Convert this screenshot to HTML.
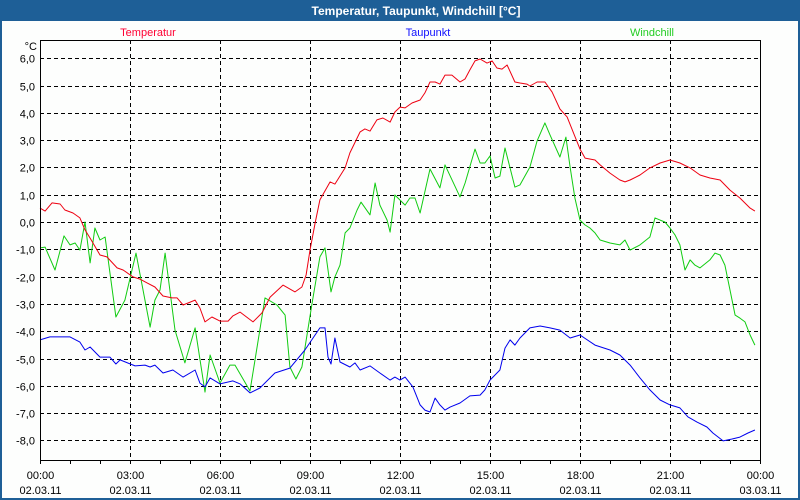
<!DOCTYPE html>
<html><head><meta charset="utf-8"><style>
html,body{margin:0;padding:0;background:#fff;}
#win{position:relative;width:800px;height:500px;overflow:hidden;font-family:"Liberation Sans",sans-serif;}
</style></head><body>
<div id="win">
<svg id="chart" width="800" height="500" xmlns="http://www.w3.org/2000/svg">
  <rect x="0" y="0" width="800" height="500" fill="#fdfefd"/>
  <rect x="0" y="0" width="800" height="21" fill="#1e5f97"/>
  <rect x="0" y="0" width="2" height="500" fill="#1e5f97"/>
  <rect x="798" y="0" width="2" height="500" fill="#1e5f97"/>
  <rect x="0" y="498" width="800" height="2" fill="#1e5f97"/>
  <text x="416" y="15" text-anchor="middle" font-size="12" font-weight="bold" fill="#fff">Temperatur, Taupunkt, Windchill [°C]</text>
  <text x="148" y="36" text-anchor="middle" font-size="11" fill="#ff0033">Temperatur</text>
  <text x="428" y="36" text-anchor="middle" font-size="11" fill="#1010ff">Taupunkt</text>
  <text x="652" y="36" text-anchor="middle" font-size="11" fill="#22cc22">Windchill</text>
  <text x="37" y="50" text-anchor="end" font-size="11" fill="#000">°C</text>
  <g id="grid"></g>
  <g id="series"></g>
  <g id="axes"></g>
</svg>
</div>
<script>
const yTicks=[6,5,4,3,2,1,0,-1,-2,-3,-4,-5,-6,-7,-8];
const xTickHours=[0,3,6,9,12,15,18,21,24];
const xTimeLabels=["00:00","03:00","06:00","09:00","12:00","15:00","18:00","21:00","00:00"];
const xDateLabels=["02.03.11","02.03.11","02.03.11","02.03.11","02.03.11","02.03.11","02.03.11","02.03.11","03.03.11"];
const tempHours=[0,0.17,0.4,0.67,0.83,1.1,1.33,1.5,1.67,2,2.23,2.57,2.77,3.1,3.33,3.57,3.83,4.1,4.4,4.57,4.77,5.17,5.33,5.5,5.73,6,6.27,6.43,6.67,7.1,7.4,7.67,8.1,8.5,8.73,8.87,9,9.17,9.33,9.67,9.83,10.17,10.33,10.67,10.83,11,11.23,11.43,11.67,11.83,12,12.17,12.4,12.67,12.83,13,13.17,13.33,13.5,13.73,14,14.17,14.33,14.5,14.67,14.9,15.07,15.23,15.4,15.57,15.83,16,16.23,16.33,16.57,16.83,17.07,17.33,17.57,17.77,18,18.17,18.5,18.67,19,19.33,19.5,19.67,20,20.33,20.67,21,21.33,21.67,22,22.33,22.67,23,23.33,23.67,23.83];
const tempValues=[0.51,0.4,0.7,0.66,0.44,0.33,0.15,-0.29,-0.59,-1.21,-1.28,-1.68,-1.76,-2.01,-2.09,-2.23,-2.38,-2.71,-2.78,-2.78,-3.04,-2.86,-3.15,-3.66,-3.48,-3.63,-3.63,-3.44,-3.3,-3.66,-3.33,-2.75,-2.31,-2.56,-2.38,-1.94,-1.03,-0.04,0.81,1.47,1.39,1.98,2.53,3.3,3.41,3.33,3.74,3.81,3.66,4.03,4.21,4.18,4.36,4.47,4.73,5.13,5.13,5.05,5.38,5.38,5.13,5.24,5.57,5.9,5.97,5.82,5.9,5.64,5.6,5.75,5.13,5.09,5.05,4.98,5.13,5.13,4.76,4.14,3.85,3.3,2.67,2.34,2.27,2.09,1.79,1.54,1.47,1.54,1.72,1.98,2.16,2.27,2.16,1.98,1.72,1.61,1.54,1.17,0.88,0.51,0.4];
const chillHours=[0,0.17,0.5,0.8,1,1.17,1.33,1.5,1.67,1.83,2,2.17,2.53,2.83,3.2,3.67,3.83,4,4.17,4.5,4.83,5.17,5.5,5.67,6,6.33,6.5,7,7.5,7.9,8.17,8.33,8.53,8.73,9.07,9.33,9.5,9.7,9.83,10,10.17,10.33,10.57,10.7,11,11.17,11.33,11.57,11.67,11.83,12.17,12.33,12.5,12.67,13,13.33,13.5,14,14.17,14.5,14.67,14.83,15,15.17,15.33,15.5,15.83,16,16.33,16.57,16.83,17,17.33,17.53,17.67,17.83,18,18.17,18.33,18.5,18.67,19,19.33,19.5,19.67,20,20.33,20.5,20.67,20.83,21,21.17,21.33,21.5,21.67,21.83,22,22.33,22.5,22.67,22.83,23,23.17,23.33,23.5,23.67,23.83];
const chillValues=[-0.95,-0.92,-1.76,-0.51,-0.84,-0.77,-1.03,0,-1.5,-0.22,-0.66,-0.55,-3.48,-2.86,-1.14,-3.85,-2.86,-2.49,-1.14,-3.96,-5.16,-3.88,-6.23,-4.87,-5.9,-5.24,-5.24,-6.19,-2.78,-3.04,-3.41,-5.31,-5.75,-5.31,-2.97,-1.28,-0.95,-2.56,-2.01,-1.58,-0.4,-0.22,0.44,0.73,0.26,1.43,0.62,0.07,-0.37,0.99,0.62,0.88,0.88,0.33,1.94,1.25,2.09,0.92,1.43,2.67,2.16,2.16,2.42,1.61,1.68,2.71,1.28,1.36,2.01,2.97,3.63,3.19,2.38,3.11,2.01,0.88,0.07,-0.11,-0.22,-0.4,-0.66,-0.77,-0.84,-0.66,-1.03,-0.84,-0.55,0.15,0.07,0,-0.22,-0.48,-0.84,-1.76,-1.39,-1.58,-1.68,-1.39,-1.14,-1.21,-1.58,-2.49,-3.41,-3.52,-3.66,-4.14,-4.51];
const dewHours=[0,0.33,1,1.33,1.5,1.67,2,2.33,2.53,2.67,3.17,3.5,3.67,3.83,4.1,4.43,4.77,5.17,5.33,5.5,5.67,6,6.43,6.67,7,7.33,7.83,8.33,8.83,9.33,9.5,9.6,9.7,9.83,10,10.33,10.5,10.67,11,11.33,11.67,11.83,12,12.17,12.43,12.67,12.83,13,13.17,13.33,13.5,13.67,14,14.33,14.67,14.83,15,15.33,15.5,15.67,15.83,16,16.33,16.67,17,17.33,17.67,18,18.5,19,19.33,19.67,20,20.33,20.67,21,21.33,21.6,21.9,22.23,22.43,22.77,23.07,23.33,23.6,23.83];
const dewValues=[-4.32,-4.21,-4.21,-4.4,-4.69,-4.58,-4.95,-4.95,-5.2,-5.05,-5.27,-5.24,-5.31,-5.24,-5.53,-5.42,-5.68,-5.42,-5.9,-6.04,-5.71,-5.93,-5.82,-5.93,-6.26,-6.08,-5.53,-5.35,-4.69,-3.88,-3.88,-4.95,-5.2,-4.25,-5.13,-5.31,-5.16,-5.42,-5.27,-5.53,-5.79,-5.68,-5.79,-5.68,-6.04,-6.7,-6.89,-6.96,-6.45,-6.7,-6.89,-6.78,-6.63,-6.37,-6.34,-6.15,-5.79,-5.42,-4.62,-4.32,-4.51,-4.25,-3.88,-3.81,-3.88,-3.96,-4.25,-4.14,-4.51,-4.69,-4.87,-5.24,-5.71,-6.15,-6.52,-6.7,-6.81,-7.14,-7.33,-7.51,-7.73,-8.02,-7.95,-7.88,-7.73,-7.62];

const NS="http://www.w3.org/2000/svg";
const PL=40,PR=760,PT=40,PB=460;
function xScale(h){return PL+(h/24)*(PR-PL);}
function yScale(v){return 222-27.3*v;}
function mk(tag,attrs,parent){const e=document.createElementNS(NS,tag);for(const k in attrs)e.setAttribute(k,attrs[k]);parent.appendChild(e);return e;}
const grid=document.getElementById('grid'),axes=document.getElementById('axes'),series=document.getElementById('series');
yTicks.forEach(v=>{
  const y=Math.round(yScale(v))+0.5;
  const l=mk('line',{x1:PL,x2:PR,y1:y,y2:y,stroke:'#000','stroke-width':1,'stroke-dasharray':'4,3'},grid);
  
  
  const t=mk('text',{x:35,y:y+4,'text-anchor':'end','font-size':11,fill:'#000'},axes);
  t.textContent=v.toFixed(1).replace('.',',');
  
  
});
xTickHours.forEach((h,i)=>{
  const x=Math.round(xScale(h))+0.5;
  if(h>0&&h<24){
    const l=mk('line',{x1:x,x2:x,y1:PT,y2:PB,stroke:'#000','stroke-width':1,'stroke-dasharray':'4,3'},grid);
    
    
  }
  const t1=mk('text',{x:x,y:479,'text-anchor':'middle','font-size':11,fill:'#000'},axes);
  t1.textContent=xTimeLabels[i];
  
  
  const t2=mk('text',{x:x,y:494,'text-anchor':'middle','font-size':11,fill:'#000'},axes);
  t2.textContent=xDateLabels[i];
  
  
});
for(let h=0;h<=24;h++){
  const x=Math.round(xScale(h))+0.5;
  const l=mk('line',{x1:x,x2:x,y1:PB,y2:PB+4,stroke:'#000','stroke-width':1},axes);
  
  
}
const frame=mk('path',{d:`M${PL+0.5},${PB+0.5}V${PT+0.5}H${PR+0.5}V${PB+0.5}Z`,fill:'none',stroke:'#000','stroke-width':1},axes);


function drawSeries(hours,vals,color,name){
  const d=hours.map((h,i)=>(i?'L':'M')+xScale(h).toFixed(1)+','+yScale(vals[i]).toFixed(1)).join('');
  const p=mk('path',{d:d,fill:'none',stroke:color,'stroke-width':1,'stroke-linejoin':'round'},series);
  
  
}
drawSeries(chillHours,chillValues,'#11cc11','windchill-line');
drawSeries(tempHours,tempValues,'#ee0011','temperatur-line');
drawSeries(dewHours,dewValues,'#0000ee','taupunkt-line');
</script>
</body></html>
